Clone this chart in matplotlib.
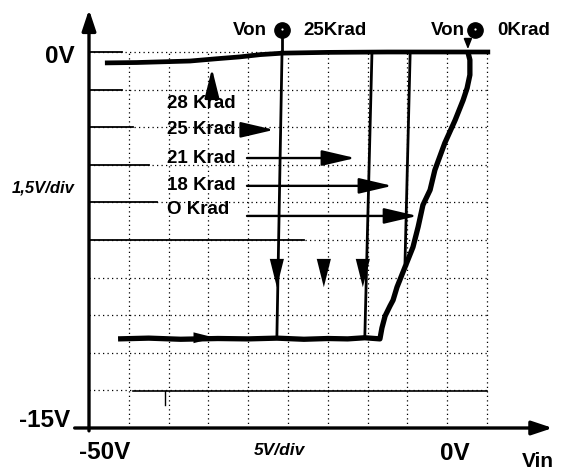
import matplotlib.pyplot as plt

# Oscilloscope graticule readings, in divisions.
# x: 5 V/div, -50 V at the y-axis; y: 1.5 V/div, -15 V at the x-axis, 0 V at the top.

# output held high (top trace, before switching)
upper_x = [0.40, 1.20, 2.54, 3.20, 3.79, 4.30, 4.87, 6.00, 7.50, 9.00, 10.08]
upper_y = [9.71, 9.72, 9.76, 9.82, 9.87, 9.93, 9.97, 9.99, 10.00, 10.00, 10.00]

# output low (bottom trace) followed by the 0 Krad transfer slope
lower_x = [0.73, 1.50, 2.30, 3.24, 4.00, 4.72, 5.40, 6.00, 6.50, 6.93]
lower_y = [2.37, 2.39, 2.36, 2.38, 2.37, 2.39, 2.36, 2.38, 2.37, 2.40]
slope_x = [7.31, 7.36, 7.44, 7.56, 7.64, 7.74, 7.94, 8.14, 8.27, 8.39,
           8.57, 8.69, 8.94, 9.20, 9.40, 9.50, 9.57, 9.57, 9.52]
slope_y = [2.37, 2.66, 2.98, 3.24, 3.40, 3.75, 4.28, 4.81, 5.35, 5.93,
           6.33, 6.86, 7.58, 8.19, 8.72, 9.04, 9.39, 9.79, 10.00]

# switching edges after irradiation
edge_x_top = [4.85, 7.11, 8.07]
edge_x_bot = [4.72, 6.93, 7.94]
edge_y_bot = [2.39, 2.42, 4.41]

# dose labels and where their arrows point
dose_labels = ["25 Krad", "21 Krad", "18 Krad", "O Krad"]
dose_text_y = [7.93, 7.18, 6.46, 5.80]
dose_arrow_y = [7.93, 7.18, 6.44, 5.64]
dose_arrow_x = [4.72, 6.76, 7.69, 8.32]
down_arrow_x = [4.72, 5.90, 6.88]

PX_X0, PX_DX = 89, 39.8
PX_Y0, PX_DY = 428, 37.6
W, H = 563, 475

fig = plt.figure(figsize=(W / 100, H / 100), dpi=100)
ax = fig.add_axes([0, 0, 1, 1])
ax.set_xlim(-PX_X0 / PX_DX, (W - PX_X0) / PX_DX)
ax.set_ylim((PX_Y0 - H) / PX_DY, PX_Y0 / PX_DY)
ax.axis("off")

font = "Liberation Sans"
dot = (0, (1, 2.6))

# --- graticule ---------------------------------------------------------
for k in range(1, 11):
    ax.plot([k, k], [0, 10], color="k", lw=0.9, ls=dot)
for k in range(1, 11):
    ax.plot([0, 10], [k, k], color="k", lw=0.9, ls=dot)
for yk, length in zip([10, 9, 8, 7, 6, 5], [0.83, 0.83, 1.1, 1.5, 1.7, 5.4]):
    ax.plot([0, length], [yk, yk], color="k", lw=1.3)
ax.plot([1.1, 10], [0.98, 0.98], color="k", lw=1.2)
ax.plot([1.9, 1.9], [0.98, 0.6], color="k", lw=1.0)

# --- axes with arrows --------------------------------------------------
ax.annotate("", xy=(0, 11.2), xytext=(0, -0.15),
            arrowprops=dict(arrowstyle="-|>,head_length=0.9,head_width=0.3",
                            color="k", lw=2.4, mutation_scale=14))
ax.annotate("", xy=(11.72, 0), xytext=(-0.43, 0),
            arrowprops=dict(arrowstyle="-|>,head_length=0.9,head_width=0.3",
                            color="k", lw=2.4, mutation_scale=14))

# --- traces ------------------------------------------------------------
ax.plot(upper_x, upper_y, color="k", lw=3.4, solid_capstyle="butt")
ax.plot(lower_x + slope_x, lower_y + slope_y, color="k", lw=3.8,
        solid_capstyle="butt")
for xt, xb, yb in zip(edge_x_top, edge_x_bot, edge_y_bot):
    ax.plot([xt, xb], [10, yb], color="k", lw=2.0)

# Von markers
ax.plot([edge_x_top[0], edge_x_top[0]], [10, 10.58], color="k", lw=2.0)
for xm in [edge_x_top[0], 9.70]:
    ax.plot(xm, 10.58, "o", color="k", ms=11)
    ax.plot(xm, 10.62, "o", color="w", ms=1.6, mew=0)
ax.annotate("", xy=(9.52, 10.0), xytext=(9.52, 10.35),
            arrowprops=dict(arrowstyle="-|>,head_length=0.5,head_width=0.2",
                            color="k", lw=1.2, mutation_scale=12))

# --- arrowheads on the traces -----------------------------------------
head = "-|>,head_length=1.2,head_width=0.3"
for xd in down_arrow_x:
    ax.annotate("", xy=(xd, 3.67), xytext=(xd, 4.25),
                arrowprops=dict(arrowstyle=head, color="k", lw=0,
                                mutation_scale=17))
ax.annotate("", xy=(3.24, 2.40), xytext=(2.91, 2.40),
            arrowprops=dict(arrowstyle=head, color="k", lw=0, mutation_scale=13))
ax.annotate("", xy=(3.09, 9.63), xytext=(3.09, 8.94),
            arrowprops=dict(arrowstyle=head, color="k", lw=1.8, mutation_scale=15))

# --- dose labels -------------------------------------------------------
ax.text(1.96, 8.64, "28 Krad", fontsize=13.5, fontweight="bold",
        family=font, va="center", ha="left")
for lab, ty, ay, ax_end in zip(dose_labels, dose_text_y, dose_arrow_y, dose_arrow_x):
    ax.text(1.96, ty, lab, fontsize=13.5, fontweight="bold", family=font,
            va="center", ha="left")
    ax.annotate("", xy=(ax_end, ay), xytext=(3.90, ay),
                arrowprops=dict(arrowstyle="-|>,head_length=1.2,head_width=0.28",
                                color="k", lw=1.7, mutation_scale=17))

ax.text(4.03, 10.56, "Von", fontsize=13.5, fontweight="bold", family=font,
        ha="center", va="center")
ax.text(5.38, 10.56, "25Krad", fontsize=13.5, fontweight="bold", family=font,
        ha="left", va="center")
ax.text(9.01, 10.56, "Von", fontsize=13.5, fontweight="bold", family=font,
        ha="center", va="center")
ax.text(10.25, 10.56, "0Krad", fontsize=13.5, fontweight="bold", family=font,
        ha="left", va="center")

# --- axis labels -------------------------------------------------------
ax.text(-0.73, 9.89, "0V", fontsize=17.5, fontweight="bold", family=font,
        ha="center", va="center")
ax.text(-1.11, 0.21, "-15V", fontsize=17.5, fontweight="bold", family=font,
        ha="center", va="center")
ax.text(-1.14, 6.38, "1,5V/div", fontsize=12, fontweight="bold",
        style="italic", family=font, ha="center", va="center")
ax.text(0.39, -0.64, "-50V", fontsize=17.5, fontweight="bold", family=font,
        ha="center", va="center")
ax.text(4.79, -0.59, "5V/div", fontsize=12.5, fontweight="bold",
        style="italic", family=font, ha="center", va="center")
ax.text(9.2, -0.68, "0V", fontsize=17.5, fontweight="bold", family=font,
        ha="center", va="center")
ax.text(11.28, -0.88, "Vin", fontsize=15, fontweight="bold", family=font,
        ha="center", va="center")

fig.savefig("out.png", dpi=100)
